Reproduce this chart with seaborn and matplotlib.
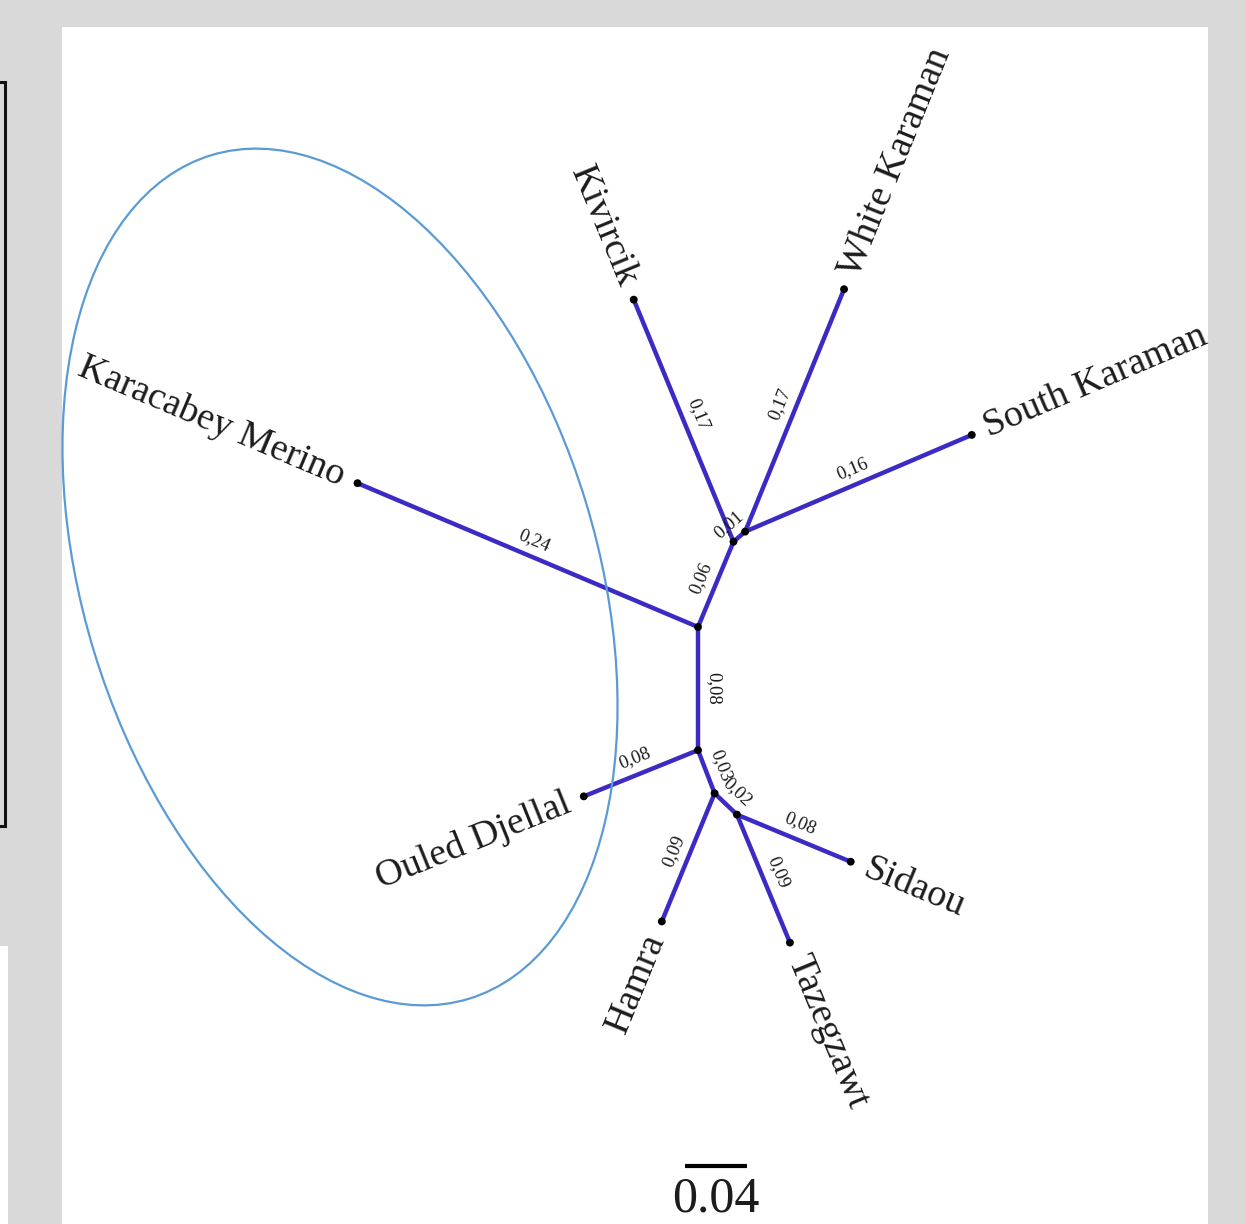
import numpy as np
import pandas as pd
import matplotlib
matplotlib.use("Agg")
import matplotlib.pyplot as plt
from matplotlib.patches import Ellipse, Rectangle
import seaborn as sns

# Unrooted neighbour-joining tree: each edge goes parent -> child with its length
# and the drawing direction (degrees, counter-clockwise from east).
edge_parent = ["A", "A", "C", "C", "D", "D", "A", "B", "B", "E", "E", "F", "F"]
edge_child = ["Karacabey Merino", "C", "D", "Kivircik", "White Karaman",
              "South Karaman", "B", "Ouled Djellal", "E", "F", "Hamra",
              "Tazegzawt", "Sidaou"]
edge_length = [0.24, 0.06, 0.01, 0.17, 0.17, 0.16, 0.08, 0.08, 0.03, 0.02,
               0.09, 0.09, 0.08]
edge_label = ["0,24", "0,06", "0,01", "0,17", "0,17", "0,16", "0,08", "0,08",
              "0,03", "0,02", "0,09", "0,09", "0,08"]
edge_angle = [157.1, 67.4, 41.0, 112.4, 67.8, 23.1, -90.0, 202.0, -68.9,
              -43.7, -112.4, -67.5, -22.5]
leaf_names = ["Karacabey Merino", "Kivircik", "White Karaman", "South Karaman",
              "Ouled Djellal", "Hamra", "Tazegzawt", "Sidaou"]
scale_bar_value = 0.04
scale_bar_text = "0.04"

W_PX, H_PX = 1245, 1224
PX_PER_UNIT = 1540.0          # drawing scale of the tree
ORIGIN_PX = (698, 627)        # where node A sits on the page

BRANCH_COLOR = "#3b2bc4"
TEXT_COLOR = "#1c1c1c"
SERIF = ["Liberation Serif", "DejaVu Serif"]

sns.set_theme(style="white")
plt.rcParams["font.family"] = SERIF

fig = plt.figure(figsize=(W_PX / 100, H_PX / 100), dpi=100)
fig.patch.set_facecolor("#d9d9d9")


def fx(px):
    return px / W_PX


def fy(py):
    return 1 - py / H_PX


# page elements around the figure panel
fig.add_artist(Rectangle((fx(62), 0), fx(1208) - fx(62), fy(27),
                         transform=fig.transFigure, facecolor="white",
                         edgecolor="none", zorder=0))
fig.add_artist(Rectangle((fx(-20), fy(826)), fx(25), fy(82) - fy(826),
                         transform=fig.transFigure, facecolor="none",
                         edgecolor="#111111", lw=2.2, zorder=1))
fig.add_artist(Rectangle((0, 0), fx(8), fy(946),
                         transform=fig.transFigure, facecolor="white",
                         edgecolor="none", zorder=1))

ax = fig.add_axes([0, 0, 1, 1])
ax.set_facecolor("none")
ax.set_xlim(-ORIGIN_PX[0] / PX_PER_UNIT, (W_PX - ORIGIN_PX[0]) / PX_PER_UNIT)
ax.set_ylim(-(H_PX - ORIGIN_PX[1]) / PX_PER_UNIT, ORIGIN_PX[1] / PX_PER_UNIT)

# node coordinates from the branch lengths
pos = {"A": np.array([0.0, 0.0])}
for p, c, L, a in zip(edge_parent, edge_child, edge_length, edge_angle):
    t = np.deg2rad(a)
    pos[c] = pos[p] + L * np.array([np.cos(t), np.sin(t)])

seg = []
for i, (p, c) in enumerate(zip(edge_parent, edge_child)):
    seg.append({"edge": i, "x": pos[p][0], "y": pos[p][1]})
    seg.append({"edge": i, "x": pos[c][0], "y": pos[c][1]})
seg = pd.DataFrame(seg)

sns.lineplot(data=seg, x="x", y="y", units="edge", estimator=None, sort=False,
             color=BRANCH_COLOR, lw=3.2, ax=ax, legend=False, zorder=2,
             solid_capstyle="round")

nodes = pd.DataFrame([{"x": v[0], "y": v[1]} for v in pos.values()])
sns.scatterplot(data=nodes, x="x", y="y", color="black", s=32,
                edgecolor="none", ax=ax, zorder=3, legend=False)


def reading_angle(a):
    r = (a + 180) % 360 - 180
    if r >= 90:
        r -= 180
    elif r < -90:
        r += 180
    return r


# branch length labels, on the upper side of each branch
for p, c, lab, a in zip(edge_parent, edge_child, edge_label, edge_angle):
    mid = (pos[p] + pos[c]) / 2
    r = reading_angle(a)
    tr = np.deg2rad(r)
    off = 11.5 * np.array([-np.sin(tr), np.cos(tr)])
    ax.annotate(lab, xy=mid, xytext=off, textcoords="offset points",
                rotation=r, rotation_mode="anchor", ha="center", va="center",
                fontsize=13.5, color=TEXT_COLOR, zorder=4)

# leaf names, continuing outward along each terminal branch
for c, a in zip(edge_child, edge_angle):
    if c not in leaf_names:
        continue
    r = reading_angle(a)
    t = np.deg2rad(a)
    off = 11 * np.array([np.cos(t), np.sin(t)])
    outward_right = abs(((a + 180) % 360 - 180)) < 90
    ax.annotate(c, xy=pos[c], xytext=off, textcoords="offset points",
                rotation=r, rotation_mode="anchor",
                ha="left" if outward_right else "right", va="center",
                fontsize=27.5, color=TEXT_COLOR, zorder=4)

# cluster outline
ell_c = ((340 - ORIGIN_PX[0]) / PX_PER_UNIT, (ORIGIN_PX[1] - 577) / PX_PER_UNIT)
ax.add_patch(Ellipse(ell_c, 882 / PX_PER_UNIT, 514 / PX_PER_UNIT, angle=-73,
                     facecolor="none", edgecolor="#5b9bd5", lw=1.6, zorder=5))

# scale bar
sb_x = (716 - ORIGIN_PX[0]) / PX_PER_UNIT
sb_y = (ORIGIN_PX[1] - 1166) / PX_PER_UNIT
ax.plot([sb_x - scale_bar_value / 2, sb_x + scale_bar_value / 2], [sb_y, sb_y],
        color="black", lw=3.0, solid_capstyle="butt", zorder=4)
ax.annotate(scale_bar_text, xy=(sb_x, sb_y), xytext=(0, -24),
            textcoords="offset points", ha="center", va="center",
            fontsize=36, color=TEXT_COLOR)

ax.set_axis_off()
fig.savefig("out.png", dpi=100, facecolor=fig.get_facecolor())
